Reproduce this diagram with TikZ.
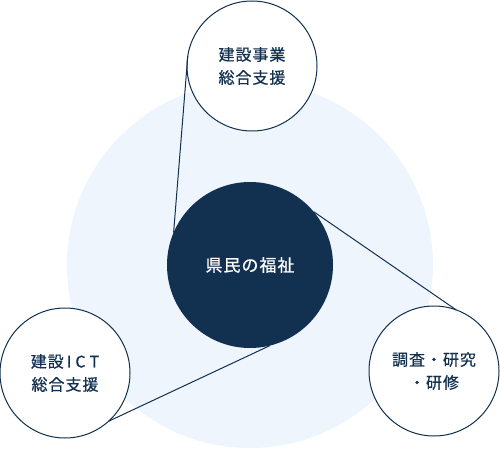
\documentclass[tikz,border=0pt]{standalone}
\usepackage{fontspec}
\setmainfont{Noto Sans CJK JP}[LetterSpace=6, FakeBold=0.6]
\definecolor{navy}{HTML}{12304F}
\definecolor{lightbg}{HTML}{EEF5FD}
\tikzset{
  sat/.style={circle, draw=navy, line width=1pt, fill=white, minimum size=130pt, inner sep=0pt, outer sep=0pt,
    text=navy, font=\fontsize{16}{23}\selectfont, align=center},
  hub/.style={circle, fill=navy, minimum size=166pt, inner sep=0pt, outer sep=0pt,
    text=white, font=\fontsize{17}{22}\selectfont},
  link/.style={draw=navy, line width=1pt}
}
\begin{document}
\begin{tikzpicture}[x=1pt,y=-1pt]
\useasboundingbox (0,0) rectangle (500,449);
\fill[lightbg] (250,265) circle (183pt);
\node[hub] (ctr) at (250,265) {県民の福祉};
\node[sat] (top) at (252,66) {建設事業\\総合支援};
\node[sat] (left) at (65,373) {建設\kern3pt I\kern4pt C\kern4pt T\\総合支援};
\node[sat] (right) at (434,371) {調査・研究\\・研修};
\draw[link] (top.171) -- (ctr.157);
\draw[link] (ctr.40) -- (right.70);
\draw[link] (ctr.-76) -- (left.-48);
\end{tikzpicture}
\end{document}
